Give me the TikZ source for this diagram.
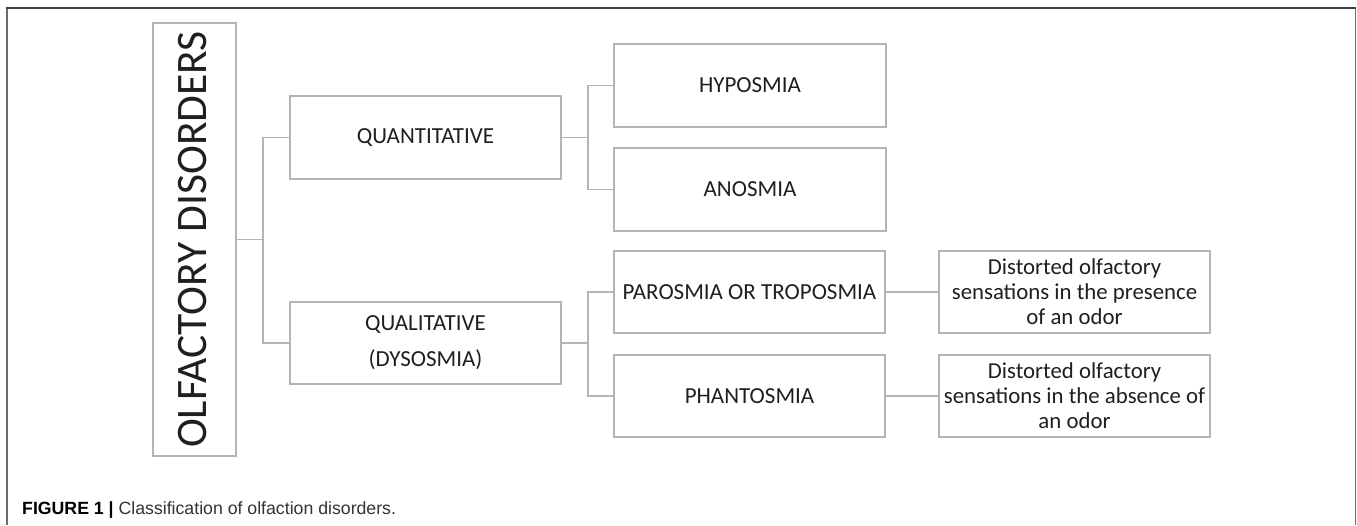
\documentclass[tikz,border=0pt]{standalone}
\usepackage{fontspec}
\setmainfont{Carlito}
\newfontfamily\capfont{Liberation Sans}
\begin{document}
\begin{tikzpicture}[x=1pt,y=-1pt,
  box/.style={draw=boxgray, line width=1.3pt, rectangle, inner sep=0pt, align=center,
     minimum width=271pt, minimum height=82pt, font=\fontsize{23}{28}\selectfont, text=black!88},
  detail/.style={box, font=\fontsize{22.8}{25}\selectfont},
  conn/.style={draw=boxgray, line width=1.3pt},
  frameside/.style={draw=gray!85!black, line width=1.6pt},
  frametop/.style={draw=black!75, line width=1.6pt}]
\definecolor{boxgray}{HTML}{B4B4B4}
\useasboundingbox (0,0) rectangle (1357,525);
\fill[white] (0,0) rectangle (1357,525);
% outer frame
\draw[frameside] (7,525) -- (7,8);
\draw[frameside] (1355.5,8) -- (1355.5,525);
\draw[frametop] (6.2,8) -- (1356.3,8);
% nodes
\node[box, minimum width=83pt, minimum height=433pt] (olf) at (194.5,239.5)
  {\hspace*{-3pt}\rotatebox{90}{\fontsize{43.5}{50}\selectfont OLFACTORY DISORDERS}};
\node[box, minimum height=83pt] (quan) at (425.5,137.5) {QUANTITATIVE};
\node[box] (qual) at (425.5,343) {QUALITATIVE\\[8pt](DYSOSMIA)};
\node[box, minimum width=272pt, minimum height=83pt] (hypo) at (750,85.5) {HYPOSMIA};
\node[box, minimum width=272pt, minimum height=83pt] (anos) at (750,189.5) {ANOSMIA};
\node[box] (paro) at (749.5,292) {PAROSMIA OR TROPOSMIA};
\node[box] (phan) at (749.5,396) {PHANTOSMIA};
\node[detail] (d1) at (1074.5,292) {Distorted olfactory\\sensations in the presence\\of an odor};
\node[detail] (d2) at (1074.5,396) {Distorted olfactory\\sensations in the absence of\\an odor};
% junctions
\coordinate (j1) at (263,239.5);
\coordinate (j2) at (588,137.5);
\coordinate (j3) at (588,343);
% connectors
\draw[conn] (olf.east) -- (j1);
\draw[conn] (quan.west) -| (j1) |- (qual.west);
\draw[conn] (quan.east) -- (j2);
\draw[conn] (hypo.west) -| (j2) |- (anos.west);
\draw[conn] (qual.east) -- (j3);
\draw[conn] (paro.west) -| (j3) |- (phan.west);
\draw[conn] (paro.east) -- (d1.west);
\draw[conn] (phan.east) -- (d2.west);
% caption
\node[anchor=base west, inner sep=0pt, font=\capfont\fontsize{17.7}{20}\selectfont] (cap) at (22,514)
  {\textbf{FIGURE 1 |} \textcolor{black!80}{Classification of olfaction disorders.}};
\end{tikzpicture}
\end{document}
